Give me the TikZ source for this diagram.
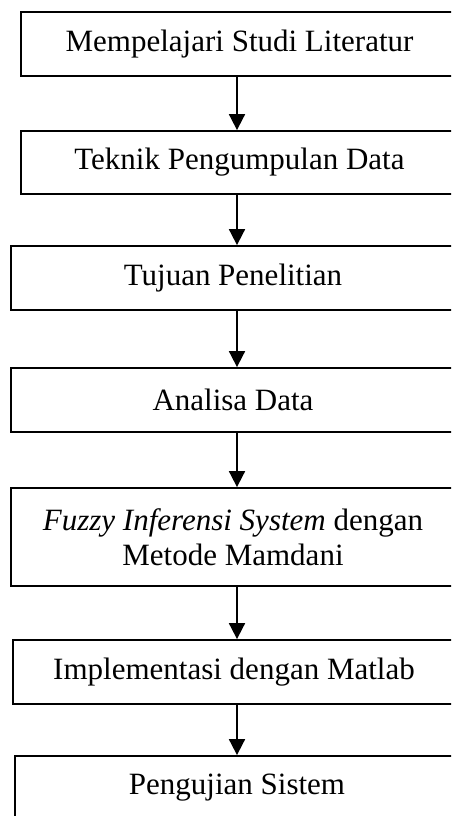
\documentclass[tikz,border=0pt]{standalone}
\usepackage{fontspec}
\setmainfont{Liberation Serif}
\usetikzlibrary{arrows.meta}

\begin{document}
\begin{tikzpicture}[x=1pt, y=-1pt]
    % Define display style
    \tikzstyle{stage}=[draw, line width=1.8pt, align=center, inner sep=0pt, minimum height=64pt, font=\fontsize{31}{35}\selectfont]
    \tikzstyle{flow}=[-{Triangle[length=16pt, width=16pt]}, line width=1.8pt]

    % Define the frame of the picture
    \useasboundingbox (0,0) rectangle (451,816);
    \clip (0,0) rectangle (451,816);

    % Define the column of the arrows
    \coordinate (axis) at (237,0);

    % Draw the stages
    \node[stage, minimum width=437pt] (literatur) at (239.5,44) {Mempelajari Studi Literatur};
    \node[stage, minimum width=437pt, minimum height=63pt] (data) at (239.5,162.5) {Teknik Pengumpulan Data};
    \node[stage, minimum width=444pt] (tujuan) at (233,278) {Tujuan Penelitian};
    \node[stage, minimum width=444pt] (analisa) at (233,400) {Analisa Data};
    \node[stage, minimum width=444pt, minimum height=98pt] (fuzzy) at (233,537)
        {\textit{Fuzzy Inferensi System} dengan\\Metode Mamdani};
    \node[stage, minimum width=442pt] (matlab) at (234,672) {Implementasi dengan Matlab};
    \node[stage, minimum width=444pt] (uji) at (237,788) {Pengujian Sistem};

    % Draw the arrows between the stages
    \foreach \from/\to in {literatur/data, data/tujuan, tujuan/analisa, analisa/fuzzy, fuzzy/matlab, matlab/uji}
        \draw[flow] (\from.south -| axis) -- (\to.north -| axis);
\end{tikzpicture}
\end{document}
